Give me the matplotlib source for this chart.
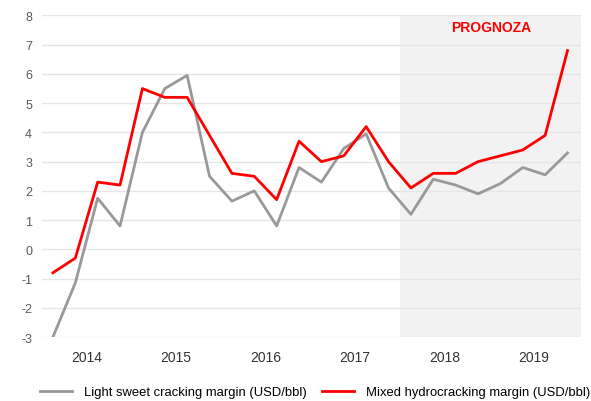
import numpy as np
import matplotlib
matplotlib.use('Agg')
import matplotlib.pyplot as plt

plt.rcParams['font.family'] = ['Liberation Sans', 'DejaVu Sans']
plt.rcParams['axes.unicode_minus'] = False

# quarterly data 2014Q1 - 2019Q4
quarters = [f'{y}Q{q}' for y in range(2014, 2020) for q in range(1, 5)]
light_sweet = [-3.0, -1.15, 1.75, 0.8, 4.0, 5.5, 5.95, 2.5,
               1.65, 2.0, 0.8, 2.8, 2.3, 3.45, 3.95, 2.1,
               1.2, 2.4, 2.2, 1.9, 2.25, 2.8, 2.55, 3.3]
mixed_hydro = [-0.8, -0.3, 2.3, 2.2, 5.5, 5.2, 5.2, 3.9,
               2.6, 2.5, 1.7, 3.7, 3.0, 3.2, 4.2, 3.0,
               2.1, 2.6, 2.6, 3.0, 3.2, 3.4, 3.9, 6.8]
years = ['2014', '2015', '2016', '2017', '2018', '2019']
forecast_start = 15.5

x = np.arange(len(quarters))

fig = plt.figure(figsize=(5.91, 4.02), dpi=100)
ax = fig.add_axes([0.0706, 0.159, 0.9124, 0.8])

ax.axvspan(forecast_start, len(quarters) - 0.4, color='#f2f2f2', zorder=0, lw=0)
ax.plot(x, light_sweet, color='#999999', lw=2, label='Light sweet cracking margin (USD/bbl)', zorder=3)
ax.plot(x, mixed_hydro, color='#ff0000', lw=2, label='Mixed hydrocracking margin (USD/bbl)', zorder=4)

ax.text(19.6, 7.6, 'PROGNOZA', color='#ff0000', fontsize=10, fontweight='bold',
        ha='center', va='center')

ax.set_xlim(-0.5, len(quarters) - 0.4)
ax.set_ylim(-3, 8)
ax.set_yticks(range(-3, 9))
ax.set_xticks([4 * i + 1.5 for i in range(len(years))])
ax.set_xticklabels(years)
ax.tick_params(axis='both', length=0, colors='#333333')
ax.tick_params(axis='x', labelsize=10, pad=9)
ax.tick_params(axis='y', labelsize=9, pad=7)
for lbl in ax.get_yticklabels():
    lbl.set_color('#595959')
ax.grid(axis='y', color='#e6e6e6', lw=1, zorder=1)
ax.set_axisbelow(True)
for s in ax.spines.values():
    s.set_visible(False)

fig.legend(loc='center', bbox_to_anchor=(0.533, 0.022), ncol=2, frameon=False,
           fontsize=9.4, handlelength=2.45, columnspacing=1.2, handletextpad=0.9,
           borderpad=0, borderaxespad=0)

fig.savefig('out.png', dpi=100)
